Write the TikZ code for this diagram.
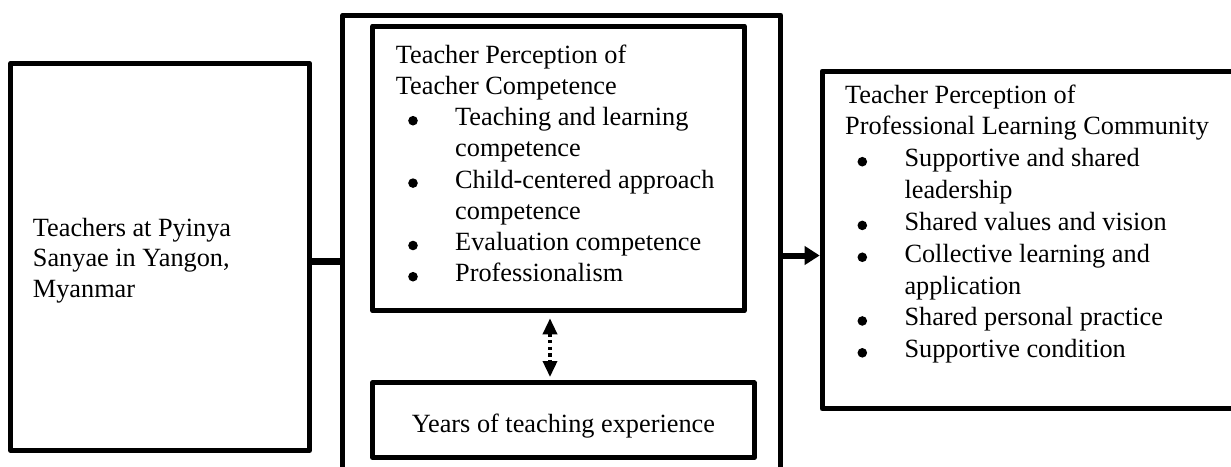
\documentclass[tikz,border=0pt]{standalone}
\usepackage{fontspec}
\setmainfont{Liberation Serif}
\usetikzlibrary{arrows.meta}
\begin{document}
\begin{tikzpicture}[x=1pt,y=-1pt,
  box/.style={draw, line width=5pt, line join=round, inner sep=0pt},
  txt/.style={anchor=base west, inner sep=0pt, font=\fontsize{26.3}{31}\selectfont},
  blt/.style={fill=black}]
\useasboundingbox (0,0) rectangle (1231,466);
\fill[white] (0,0) rectangle (1231,466);
\clip (0,0) rectangle (1231,466);

% frames
\node[box, minimum width=298.7pt, minimum height=387.3pt] (lb) at (160.2,256.9) {};
\node[box, minimum width=438pt, minimum height=484.8pt] (big) at (561.8,257.6) {};
\node[box, minimum width=371.4pt, minimum height=284.8pt] (tb) at (558.5,168.4) {};
\node[box, minimum width=381.7pt, minimum height=74.7pt] (yb) at (563.35,420.15) {};
\node[box, minimum width=427.8pt, minimum height=337.6pt] (rb) at (1036.1,240) {};

% left frame text
\node[txt] (l1) at (32.7,236) {Teachers at Pyinya};
\node[txt] (l2) at (32.7,266.6) {Sanyae in Yangon,};
\node[txt] (l3) at (32.7,297.2) {Myanmar};

% teacher competence text
\node[txt] (m1) at (395.7,63.3) {Teacher Perception of};
\node[txt] (m2) at (395.7,94.5) {Teacher Competence};
\node[txt] (m3) at (455,125.7) {Teaching and learning};
\node[txt] (m4) at (455,156.9) {competence};
\node[txt] (m5) at (455,188.1) {Child-centered approach};
\node[txt] (m6) at (455,219.3) {competence};
\node[txt] (m7) at (455,250.5) {Evaluation competence};
\node[txt] (m8) at (455,281.7) {Professionalism};
\foreach \n in {m3,m5,m7,m8}
  \fill[blt] ([xshift=-42pt,yshift=5pt]\n.base west) circle (4.8pt);

% years of experience
\node[txt, anchor=base] (yt) at (563.4,432) {Years of teaching experience};

% professional learning community text
\node[txt] (r1) at (845,103) {Teacher Perception of};
\node[txt] (r2) at (845,134.85) {Professional Learning Community};
\node[txt] (r3) at (904.3,166.7) {Supportive and shared};
\node[txt] (r4) at (904.3,198.55) {leadership};
\node[txt] (r5) at (904.3,230.4) {Shared values and vision};
\node[txt] (r6) at (904.3,262.25) {Collective learning and};
\node[txt] (r7) at (904.3,294.1) {application};
\node[txt] (r8) at (904.3,325.95) {Shared personal practice};
\node[txt] (r9) at (904.3,357.8) {Supportive condition};
\foreach \n in {r3,r5,r6,r8,r9}
  \fill[blt] ([xshift=-42pt,yshift=5pt]\n.base west) circle (4.8pt);

% connectors
\coordinate (lc) at (0,261.2);
\draw[line width=7pt] (lb.east |- lc) -- (big.west |- lc);
\coordinate (rc) at (0,255.5);
\draw[line width=6pt, -{Triangle[length=15pt,width=18pt]}] (big.east |- rc) -- (rb.west |- rc);
\coordinate (dc) at (550,0);
\draw[line width=3.5pt, dash pattern=on 3.3pt off 3.3pt,
  {Triangle[length=16pt,width=14pt]}-{Triangle[length=16pt,width=14pt]},
  shorten <=5pt, shorten >=3.3pt] (tb.south -| dc) -- (yb.north -| dc);
\end{tikzpicture}
\end{document}
